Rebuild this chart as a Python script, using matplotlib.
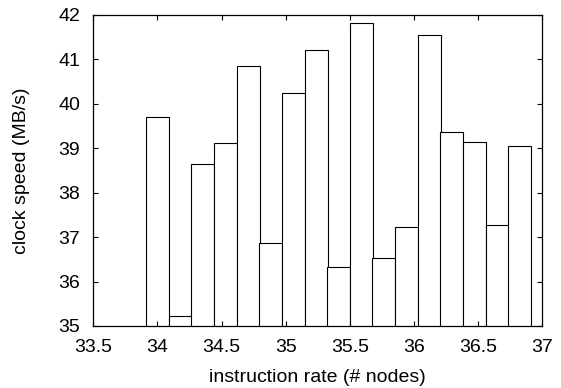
import matplotlib
matplotlib.use('Agg')
import matplotlib.pyplot as plt

# centres des barres (instruction rate) et hauteurs (clock speed)
rates = [34.0, 34.18, 34.35, 34.53, 34.71, 34.88, 35.06, 35.24, 35.41,
         35.59, 35.76, 35.94, 36.12, 36.29, 36.47, 36.65, 36.82]
speeds = [39.69, 35.22, 38.65, 39.12, 40.85, 36.87, 40.23, 41.21, 36.33,
          41.81, 36.54, 37.23, 41.54, 39.36, 39.14, 37.28, 39.05]
bar_width = 0.1765

x_ticks = [33.5, 34, 34.5, 35, 35.5, 36, 36.5, 37]
x_labels = ['33.5', '34', '34.5', '35', '35.5', '36', '36.5', '37']
y_ticks = [35, 36, 37, 38, 39, 40, 41, 42]

plt.rcParams['font.family'] = ['Liberation Sans', 'DejaVu Sans']
plt.rcParams['font.size'] = 14

fig = plt.figure(figsize=(5.61, 3.88), dpi=100)
ax = fig.add_axes([0.1663, 0.1598, 0.8004, 0.8023])

ax.bar(rates, speeds, width=bar_width, bottom=0, color='white',
       edgecolor='black', linewidth=0.8)

ax.set_xlim(33.5, 37)
ax.set_ylim(35, 42)
ax.set_xticks(x_ticks)
ax.set_xticklabels(x_labels)
ax.set_yticks(y_ticks)
ax.tick_params(direction='in', length=3.6, width=0.8, top=True, right=True,
               labelsize=14)
ax.tick_params(axis='x', pad=9.5)
ax.tick_params(axis='y', pad=9.5)
for s in ax.spines.values():
    s.set_linewidth(0.9)

ax.set_xlabel('instruction rate (# nodes)', fontsize=14, labelpad=9)
ax.set_ylabel('clock speed (MB/s)', fontsize=14, labelpad=20)

fig.savefig('out.png', dpi=100)
